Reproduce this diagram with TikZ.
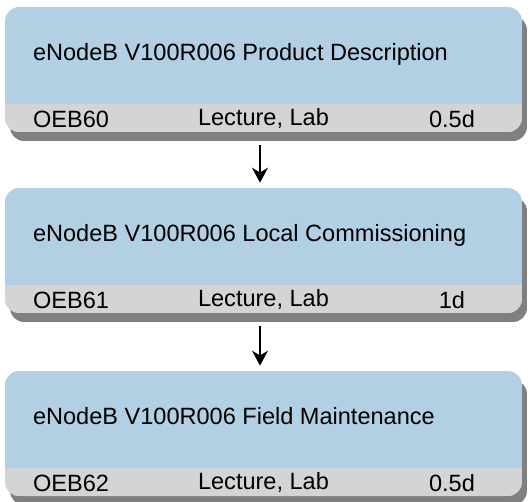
\documentclass[tikz,border=0pt]{standalone}
\usepackage{fontspec}
\setmainfont{Liberation Sans}
\usetikzlibrary{arrows.meta}
\definecolor{titleblue}{HTML}{B3CFE3}
\definecolor{bandgray}{HTML}{D4D4D4}
\definecolor{shadegray}{HTML}{808080}

\begin{document}
\begin{tikzpicture}[x=0.02cm, y=-0.02cm,
    plate/.style={rectangle, rounded corners=0.28cm, minimum width=10.34cm,
      minimum height=2.5cm, inner sep=0pt},
    shade/.style={plate, fill=shadegray},
    course/.style={plate, fill=titleblue,
      path picture={\fill[bandgray, sharp corners] (path picture bounding box.south west)
        rectangle ([yshift=0.56cm]path picture bounding box.south east);}},
    label/.style={inner sep=0pt, font=\fontsize{13.4}{16}\selectfont},
    flow/.style={-{Stealth[length=0.3cm, width=0.32cm]}, line width=1.1pt}]
  \useasboundingbox (0,0) rectangle (530,501);
  % shadows
  \node[shade] (s1) at (268.5,78.5) {};
  \node[shade] (s2) at (268.5,259.5) {};
  \node[shade] (s3) at (268.5,442.5) {};
  % three course boxes
  \node[course] (c1) at (263.5,69.5) {};
  \node[course] (c2) at (263.5,250.5) {};
  \node[course] (c3) at (263.5,433.5) {};
  % titles
  \node[label, anchor=base west] (t1) at ([xshift=0.56cm, yshift=-1.08cm]c1.north west) {eNodeB V100R006 Product Description};
  \node[label, anchor=base west] (t2) at ([xshift=0.56cm, yshift=-1.08cm]c2.north west) {eNodeB V100R006 Local Commissioning};
  \node[label, anchor=base west] (t3) at ([xshift=0.56cm, yshift=-1.08cm]c3.north west) {eNodeB V100R006 Field Maintenance};
  % code, type and length
  \node[label, anchor=base west] (k1) at ([xshift=0.56cm, yshift=-2.42cm]c1.north west) {OEB60};
  \node[label, anchor=base] (m1) at ([yshift=-2.38cm]c1.north) {Lecture, Lab};
  \node[label, anchor=base] (d1) at ([xshift=3.77cm, yshift=-2.42cm]c1.north) {0.5d};
  \node[label, anchor=base west] (k2) at ([xshift=0.56cm, yshift=-2.42cm]c2.north west) {OEB61};
  \node[label, anchor=base] (m2) at ([yshift=-2.38cm]c2.north) {Lecture, Lab};
  \node[label, anchor=base] (d2) at ([xshift=3.77cm, yshift=-2.42cm]c2.north) {1d};
  \node[label, anchor=base west] (k3) at ([xshift=0.56cm, yshift=-2.42cm]c3.north west) {OEB62};
  \node[label, anchor=base] (m3) at ([yshift=-2.38cm]c3.north) {Lecture, Lab};
  \node[label, anchor=base] (d3) at ([xshift=3.77cm, yshift=-2.42cm]c3.north) {0.5d};
  % arrows
  \draw[flow] ([xshift=-0.07cm, yshift=-0.26cm]c1.south) -- ([xshift=-0.07cm, yshift=0.1cm]c2.north);
  \draw[flow] ([xshift=-0.07cm, yshift=-0.26cm]c2.south) -- ([xshift=-0.07cm, yshift=0.1cm]c3.north);
\end{tikzpicture}
\end{document}
